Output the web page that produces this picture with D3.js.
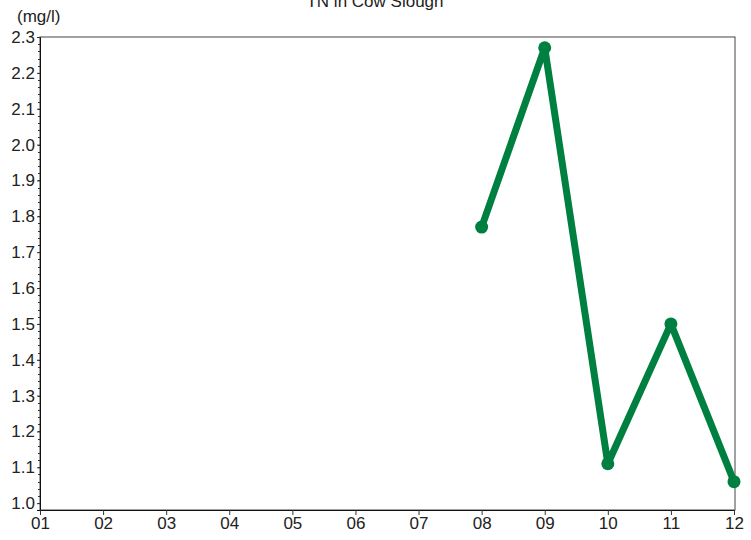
<!DOCTYPE html>
<html>
<head>
<meta charset="utf-8">
<script src="https://cdn.jsdelivr.net/npm/d3@7"></script>
<style>
  html, body { margin: 0; padding: 0; background: #fff; }
  svg { display: block; font-family: "Liberation Sans", Arial, sans-serif; }
</style>
</head>
<body>
<svg id="chart" width="751" height="540"></svg>
<script>
const title = "TN in Cow Slough";
const unitLabel = "(mg/l)";
const months = ["01","02","03","04","05","06","07","08","09","10","11","12"];
const dataMonths = ["08","09","10","11","12"];
const tnValues = [1.77, 2.27, 1.11, 1.50, 1.06];
const yTicks = [1.0,1.1,1.2,1.3,1.4,1.5,1.6,1.7,1.8,1.9,2.0,2.1,2.2,2.3];

(function () {
const svg = d3.select("#chart");
const mLeft = 40, mRight = 735, mTop = 37, mBottom = 510;
const fs = 17;

const x = d3.scalePoint().domain(months).range([mLeft, 734]);
const y = d3.scaleLinear().domain([0.981, 2.3]).range([mBottom, mTop]);

// frame
svg.append("rect")
  .attr("x", mLeft).attr("y", mTop)
  .attr("width", mRight - mLeft).attr("height", mBottom - mTop)
  .attr("fill", "none").attr("stroke", "#444").attr("stroke-width", 1);

// y minor ticks
const minor = d3.range(0, 66).map(i => 1.0 + i * 0.02).filter(v => v <= 2.3001);
svg.append("g").selectAll("line").data(minor).join("line")
  .attr("x1", mLeft - 2).attr("x2", mLeft)
  .attr("y1", d => Math.round(y(d)) + 0.5).attr("y2", d => Math.round(y(d)) + 0.5)
  .attr("stroke", "#333").attr("stroke-width", 1);

// y axis
const yAxis = d3.axisLeft(y).tickValues(yTicks).tickFormat(d3.format(".1f")).tickSize(3).tickPadding(2);
const gy = svg.append("g").attr("transform", `translate(${mLeft},0)`).call(yAxis);
gy.select(".domain").attr("stroke", "#111");
gy.selectAll(".tick line").attr("stroke", "#333");
gy.selectAll("text").attr("font-size", fs).attr("fill", "#222")
  .attr("font-family", "Liberation Sans, Arial, sans-serif");

// x axis
const xAxis = d3.axisBottom(x).tickSize(5).tickPadding(2);
const gx = svg.append("g").attr("transform", `translate(0,${mBottom})`).call(xAxis);
gx.select(".domain").attr("stroke", "#111").attr("d", `M${mLeft},0.5H${mRight}`);
gx.selectAll(".tick line").attr("stroke", "#333");
gx.selectAll("text").attr("font-size", fs).attr("fill", "#222")
  .attr("font-family", "Liberation Sans, Arial, sans-serif");

// title and unit
svg.append("text").attr("x", 375).attr("y", 7).attr("text-anchor", "middle")
  .attr("font-size", fs).attr("fill", "#222").text(title);
svg.append("text").attr("x", 17).attr("y", 22)
  .attr("font-size", fs).attr("fill", "#222").text(unitLabel);

// data
const pts = dataMonths.map((m, i) => ({m, v: tnValues[i]}));
const line = d3.line().x(d => x(d.m)).y(d => y(d.v));
svg.append("path").datum(pts).attr("d", line)
  .attr("fill", "none").attr("stroke", "#008040").attr("stroke-width", 7)
  .attr("stroke-linejoin", "round");
svg.append("g").selectAll("circle").data(pts).join("circle")
  .attr("cx", d => x(d.m)).attr("cy", d => y(d.v)).attr("r", 6.5)
  .attr("fill", "#008040");
})();
</script>
</body>
</html>
